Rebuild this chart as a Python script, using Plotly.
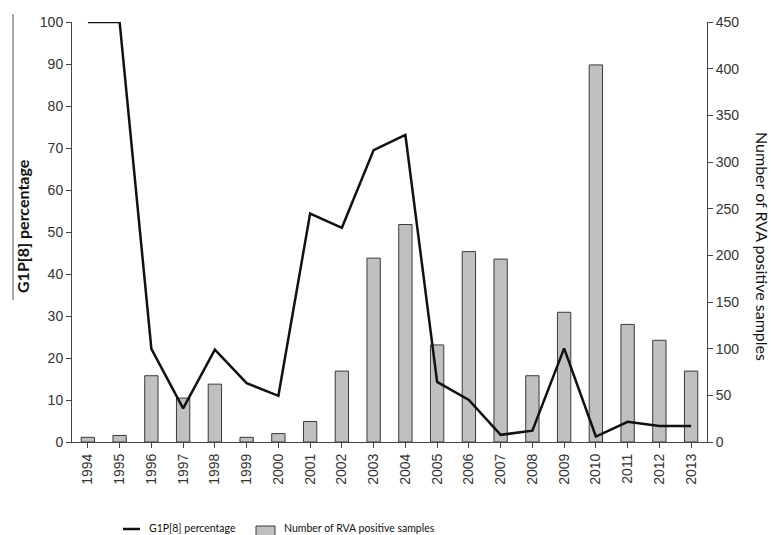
import plotly.graph_objects as go

years = ["1994", "1995", "1996", "1997", "1998", "1999", "2000", "2001", "2002", "2003",
         "2004", "2005", "2006", "2007", "2008", "2009", "2010", "2011", "2012", "2013"]
g1p8_pct = [100, 100, 22.2, 8.0, 22.0, 14.0, 11.0, 54.4, 51.0, 69.5,
            73.1, 14.3, 10.0, 1.7, 2.7, 22.3, 1.3, 4.8, 3.8, 3.8]
rva_samples = [5, 7, 71, 47, 62, 5, 9, 22, 76, 197,
               233, 104, 204, 196, 71, 139, 404, 126, 109, 76]
left_ticks = [0, 10, 20, 30, 40, 50, 60, 70, 80, 90, 100]
right_ticks = [0, 50, 100, 150, 200, 250, 300, 350, 400, 450]
line_name = "G1P[8] percentage"
bar_name = "Number of RVA positive samples"

AX = "#444444"
TXT = "#333333"
BAR_FILL = "#c0c0c0"
BAR_EDGE = "#3a3a3a"
LINE_COL = "#111111"

fig = go.Figure()
fig.add_trace(go.Bar(
    x=years, y=rva_samples, name=bar_name,
    marker=dict(color=BAR_FILL, line=dict(color=BAR_EDGE, width=1)),
    width=0.42, yaxis="y", showlegend=False,
))
fig.add_trace(go.Scatter(
    x=years, y=g1p8_pct, name=line_name, mode="lines",
    line=dict(color=LINE_COL, width=2.5), yaxis="y2", showlegend=False,
))

def px_x(p):
    return (p - 72) / 635

def px_y(p):
    return (442 - p) / 420

legend_font = dict(family="Lato, Open Sans", size=10.5, color="#111111")

fig.update_layout(
    width=771, height=535,
    margin=dict(l=72, r=64, t=22, b=93, autoexpand=False),
    paper_bgcolor="white", plot_bgcolor="white",
    xaxis=dict(
        type="category", range=[-0.5, 19.5],
        showline=True, linecolor=AX, linewidth=1,
        ticks="outside", ticklen=5, tickcolor=AX,
        tickangle=-90, tickfont=dict(family="Liberation Sans, Arial", size=14, color=TXT),
        showgrid=False, zeroline=False, automargin=False,
    ),
    yaxis=dict(
        side="right", range=[0, 450], tickvals=right_ticks,
        showline=True, linecolor=AX, linewidth=1,
        ticks="outside", ticklen=5, tickcolor=AX,
        tickfont=dict(family="Liberation Sans, Arial", size=14, color=TXT),
        showgrid=False, zeroline=False, automargin=False,
    ),
    yaxis2=dict(
        overlaying="y", side="left", range=[0, 100], tickvals=left_ticks,
        showline=True, linecolor=AX, linewidth=1,
        ticks="outside", ticklen=5, tickcolor=AX,
        tickfont=dict(family="Liberation Sans, Arial", size=14, color=TXT),
        showgrid=False, zeroline=False, automargin=False,
    ),
    annotations=[
        dict(text="<b>" + line_name + "</b>", xref="paper", yref="paper",
             x=px_x(22), y=px_y(226), xanchor="center", yanchor="middle",
             showarrow=False, textangle=-90,
             font=dict(family="Lato, Open Sans", size=16, color="#111111")),
        dict(text=bar_name, xref="paper", yref="paper",
             x=px_x(763), y=px_y(246), xanchor="center", yanchor="middle",
             showarrow=False, textangle=90,
             font=dict(family="Lato, Open Sans", size=16, color="#111111")),
        dict(text="<b>RV1 vaccination</b>", xref="x", yref="y",
             x="2006", y=290, xshift=13, showarrow=False,
             font=dict(family="Liberation Serif, Times New Roman", size=14, color="#111111")),
        dict(text="", xref="x", yref="y", x="2006", y=219,
             showarrow=True, arrowhead=2, arrowsize=1, arrowwidth=2,
             arrowcolor="#111111", ax=0, ay=-54),
        dict(text=line_name, xref="paper", yref="paper",
             x=px_x(147), y=px_y(528), xanchor="left", yanchor="middle",
             showarrow=False, font=legend_font),
        dict(text=bar_name, xref="paper", yref="paper",
             x=px_x(282), y=px_y(528), xanchor="left", yanchor="middle",
             showarrow=False, font=legend_font),
    ],
    shapes=[
        dict(type="line", xref="paper", yref="paper",
             x0=px_x(13), x1=px_x(13), y0=px_y(14), y1=px_y(300),
             line=dict(color="#555555", width=1)),
        dict(type="line", xref="paper", yref="paper",
             x0=px_x(123), x1=px_x(140), y0=px_y(529), y1=px_y(529),
             line=dict(color=LINE_COL, width=2.5)),
        dict(type="rect", xref="paper", yref="paper",
             x0=px_x(256), x1=px_x(275), y0=px_y(526), y1=px_y(538),
             fillcolor=BAR_FILL, line=dict(color=BAR_EDGE, width=1)),
    ],
)

fig.write_html(
    "out.html",
    config={"displayModeBar": False},
    post_script="document.body.style.margin='0';document.body.style.overflow='hidden';",
)
